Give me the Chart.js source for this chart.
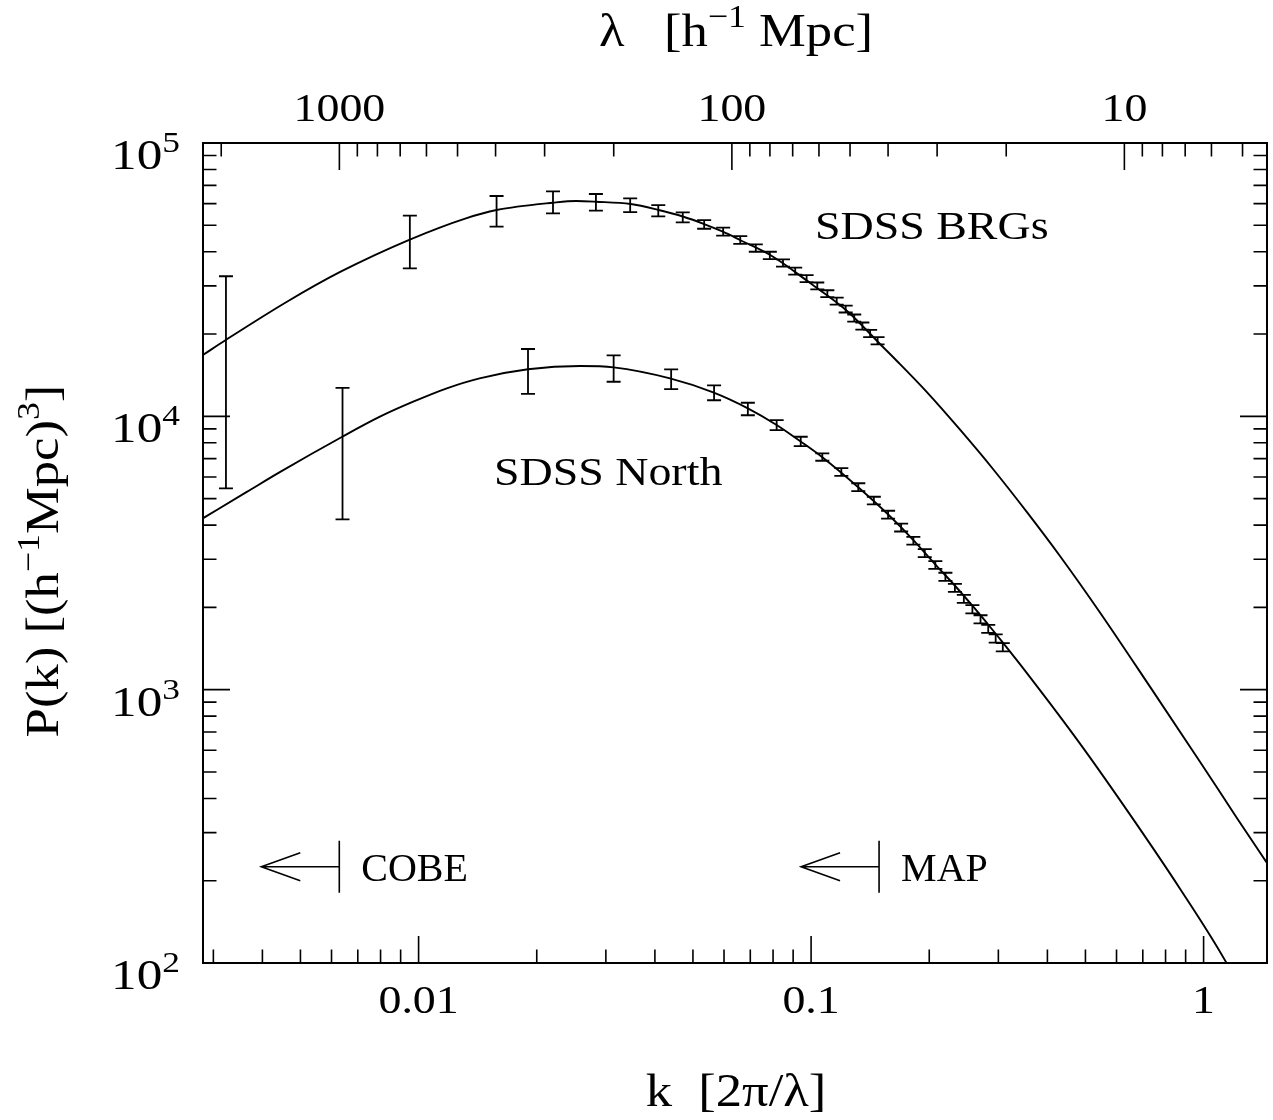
<!DOCTYPE html>
<html>
<head>
<meta charset="utf-8">
<script src="https://cdn.jsdelivr.net/npm/chart.js@4.4.1/dist/chart.umd.min.js"></script>
<style>
  html, body { margin: 0; padding: 0; background: #fff; }
  canvas { display: block; }
</style>
</head>
<body>
<canvas id="pk" width="1273" height="1120"></canvas>
<script>
// SDSS BRG band powers (k in h/Mpc, P and 1-sigma error in (Mpc/h)^3)
const brgK = [0.00323, 0.0095, 0.0158, 0.0220, 0.0283, 0.0346, 0.0408, 0.0471, 0.0534, 0.0597,
  0.0660, 0.0723, 0.0785, 0.0848, 0.0911, 0.0974, 0.1037, 0.1100, 0.1162, 0.1225, 0.1288, 0.1351, 0.1414, 0.1477];
const brgP = [19000, 44500, 56700, 60900, 60800, 59300, 56600, 53500, 50400, 47400,
  44200, 41300, 38800, 36400, 34000, 31900, 30000, 28100, 26400, 24700, 22900, 21400, 20100, 18900];
const brgErr = [13550, 9700, 7300, 5600, 4270, 3400, 2700, 2250, 1850, 1600,
  1450, 1300, 1200, 1100, 1000, 950, 880, 820, 770, 720, 680, 640, 600, 580];

// SDSS North band powers
const northK = [0.0064, 0.0190, 0.0314, 0.0440, 0.0566, 0.0690, 0.0817, 0.0941, 0.1068, 0.1194,
  0.1319, 0.1445, 0.1571, 0.1696, 0.1822, 0.1948, 0.2073, 0.2199, 0.2325, 0.2450, 0.2576, 0.2702, 0.2827, 0.2953, 0.3079];
const northP = [8450, 14860, 15050, 13720, 12220, 10650, 9300, 8100, 7100, 6260,
  5510, 4920, 4370, 3920, 3510, 3160, 2860, 2590, 2360, 2150, 1970, 1810, 1670, 1540, 1430];
const northErr = [4250, 2770, 1670, 1140, 770, 560, 390, 320, 220, 200,
  180, 160, 145, 130, 115, 105, 95, 88, 80, 73, 67, 62, 57, 53, 50];

// model curves
const brgCurveK = [0.00282, 0.00324, 0.00462, 0.00633, 0.00953, 0.0132, 0.0158, 0.0220, 0.0252, 0.0283,
  0.0347, 0.0409, 0.0473, 0.0534, 0.0596, 0.0659, 0.0800, 0.0994, 0.1227, 0.1522, 0.1652, 0.197,
  0.239, 0.291, 0.354, 0.431, 0.545, 0.730, 0.979, 1.218, 1.46];
const brgCurveP = [16760, 19100, 26260, 33820, 44420, 53030, 56870, 60480, 61360, 60990,
  59820, 56870, 53740, 50530, 47380, 44170, 38370, 30740, 24490, 17975, 15975, 12285,
  8970, 6404, 4480, 3077, 1912, 1026, 545, 338, 229];
const northCurveK = [0.00282, 0.00365, 0.00443, 0.00639, 0.00797, 0.00969, 0.0118, 0.0143, 0.0190, 0.0258,
  0.0314, 0.0437, 0.0563, 0.0690, 0.0817, 0.0937, 0.1064, 0.1314, 0.1567, 0.1822, 0.2068, 0.2326,
  0.2589, 0.2856, 0.3059, 0.3611, 0.4843, 0.6541, 0.8708, 1.135, 1.30];
const northCurveP = [4235, 5290, 6250, 8420, 9970, 11310, 12660, 13770, 14860, 15280,
  15110, 13770, 12240, 10700, 9300, 8120, 7115, 5526, 4391, 3527, 2881, 2400,
  2011, 1699, 1505, 1112, 635, 344, 187, 102, 70];

// axes
const kMin = 0.002823, kMax = 1.4506;
const pMin = 100, pMax = 100000;
const kTickValues = [0.01, 0.1, 1];
const kTickLabels = ['0.01', '0.1', '1'];
const lambdaTickValues = [1000, 100, 10];
const lambdaTickLabels = ['1000', '100', '10'];
const pTickValues = [100, 1000, 10000, 100000];
const pTickExps = ['2', '3', '4', '5'];

// survey scale limits (arrow markers) and curve labels
const markerK = [0.00628, 0.149];
const markerP = [225, 225];
const markerLabels = ['COBE', 'MAP'];
const curveLabelText = ['SDSS BRGs', 'SDSS North'];
const curveLabelK = [0.1023, 0.01556];
const curveLabelP = [44540, 5606];

const FONT = '"Liberation Serif", "Times New Roman", serif';

function pts(ks, ps, errs) {
  return ks.map((k, i) => errs ? { x: k, y: ps[i], err: errs[i] } : { x: k, y: ps[i] });
}

// draw a run of text pieces; pieces with sup:true are smaller and raised
// sx widens the glyphs a little, the original font is broad
function textRun(ctx, parts, x, y, align, size, sx) {
  size = size || 41;
  sx = sx || 1.12;
  const supSize = Math.round(size * 0.68);
  const rise = Math.round(size * 0.4);
  let w = 0;
  parts.forEach(p => {
    ctx.font = (p.sup ? supSize : size) + 'px ' + FONT;
    p.w = ctx.measureText(p.t).width * sx;
    w += p.w;
  });
  let cx = align === 'center' ? x - w / 2 : align === 'right' ? x - w : x;
  ctx.textAlign = 'left';
  ctx.textBaseline = 'alphabetic';
  parts.forEach(p => {
    ctx.font = (p.sup ? supSize : size) + 'px ' + FONT;
    ctx.save();
    ctx.translate(cx, y - (p.sup ? rise : 0));
    ctx.scale(sx, 1);
    ctx.fillText(p.t, 0, 0);
    ctx.restore();
    cx += p.w;
  });
}

const errorBars = {
  id: 'errorBars',
  afterDatasetsDraw(chart) {
    const { ctx, chartArea: a, scales: { x, y } } = chart;
    ctx.save();
    ctx.beginPath();
    ctx.rect(a.left, a.top, a.right - a.left, a.bottom - a.top);
    ctx.clip();
    ctx.strokeStyle = '#000';
    ctx.lineWidth = 1.8;
    ctx.beginPath();
    chart.data.datasets.forEach(ds => {
      if (!ds.errorBars) return;
      ds.data.forEach(d => {
        const px = x.getPixelForValue(d.x);
        const top = y.getPixelForValue(d.y + d.err);
        const bot = y.getPixelForValue(Math.max(d.y - d.err, 1));
        ctx.moveTo(px, top); ctx.lineTo(px, bot);
        ctx.moveTo(px - 7, top); ctx.lineTo(px + 7, top);
        ctx.moveTo(px - 7, bot); ctx.lineTo(px + 7, bot);
      });
    });
    ctx.stroke();
    ctx.restore();
  }
};

const axesDecor = {
  id: 'axesDecor',
  afterDraw(chart) {
    const { ctx, chartArea: a, scales } = chart;
    const xs = scales.x, ls = scales.x2, ys = scales.y;
    ctx.save();
    ctx.strokeStyle = '#000';
    ctx.fillStyle = '#000';
    ctx.lineWidth = 2;
    ctx.strokeRect(a.left, a.top, a.right - a.left, a.bottom - a.top);

    ctx.lineWidth = 1.6;
    ctx.beginPath();
    // bottom: k ticks
    for (let e = -3; e <= 0; e++) {
      for (let m = 1; m <= 9; m++) {
        const v = m * Math.pow(10, e);
        if (v < kMin || v > kMax) continue;
        const px = xs.getPixelForValue(v);
        const len = m === 1 ? 27 : 13.5;
        ctx.moveTo(px, a.bottom); ctx.lineTo(px, a.bottom - len);
      }
    }
    // top: lambda ticks
    const lamMin = 2 * Math.PI / kMax, lamMax = 2 * Math.PI / kMin;
    for (let e = 0; e <= 3; e++) {
      for (let m = 1; m <= 9; m++) {
        const v = m * Math.pow(10, e);
        if (v < lamMin || v > lamMax) continue;
        const px = ls.getPixelForValue(v);
        const len = m === 1 ? 27 : 13.5;
        ctx.moveTo(px, a.top); ctx.lineTo(px, a.top + len);
      }
    }
    // left and right: P ticks
    for (let e = 2; e <= 5; e++) {
      for (let m = 1; m <= 9; m++) {
        const v = m * Math.pow(10, e);
        if (v < pMin || v > pMax) continue;
        const py = ys.getPixelForValue(v);
        const len = m === 1 ? 27 : 13.5;
        ctx.moveTo(a.left, py); ctx.lineTo(a.left + len, py);
        ctx.moveTo(a.right, py); ctx.lineTo(a.right - len, py);
      }
    }
    ctx.stroke();

    // tick labels
    kTickValues.forEach((v, i) => {
      textRun(ctx, [{ t: kTickLabels[i] }], xs.getPixelForValue(v), 1013, 'center');
    });
    lambdaTickValues.forEach((v, i) => {
      textRun(ctx, [{ t: lambdaTickLabels[i] }], ls.getPixelForValue(v), 121, 'center');
    });
    pTickValues.forEach((v, i) => {
      textRun(ctx, [{ t: '10' }, { t: pTickExps[i], sup: true }], 180, ys.getPixelForValue(v) + 26, 'right', 42, 1.22);
    });

    // axis titles
    textRun(ctx, [{ t: 'k  [2\u03c0/\u03bb]' }], 736, 1106, 'center', 47);
    textRun(ctx, [{ t: '\u03bb   [h' }, { t: '\u22121', sup: true }, { t: ' Mpc]' }], 736, 46, 'center', 47);
    ctx.save();
    ctx.translate(58, 561);
    ctx.rotate(-Math.PI / 2);
    textRun(ctx, [{ t: 'P(k) [(h' }, { t: '\u22121', sup: true }, { t: 'Mpc)' }, { t: '3', sup: true }, { t: ']' }], 0, 0, 'center', 47);
    ctx.restore();

    // curve labels
    curveLabelText.forEach((t, i) => {
      textRun(ctx, [{ t }], xs.getPixelForValue(curveLabelK[i]), ys.getPixelForValue(curveLabelP[i]), 'left');
    });

    // COBE / MAP scale markers
    ctx.lineWidth = 1.6;
    markerK.forEach((k, i) => {
      const px = xs.getPixelForValue(k);
      const py = ys.getPixelForValue(markerP[i]);
      ctx.beginPath();
      ctx.moveTo(px, py - 26); ctx.lineTo(px, py + 26);
      ctx.moveTo(px, py); ctx.lineTo(px - 78, py);
      ctx.moveTo(px - 39, py - 14); ctx.lineTo(px - 78, py); ctx.lineTo(px - 39, py + 14);
      ctx.stroke();
      textRun(ctx, [{ t: markerLabels[i] }], px + 22, py + 14, 'left', 40, 1.0);
    });
    ctx.restore();
  }
};

const lineStyle = { showLine: true, pointRadius: 0, borderColor: '#000', borderWidth: 1.9,
  cubicInterpolationMode: 'monotone', fill: false };
const barStyle = { showLine: false, pointRadius: 0, pointHoverRadius: 0, borderColor: '#000', errorBars: true };

new Chart(document.getElementById('pk'), {
  type: 'scatter',
  data: {
    datasets: [
      Object.assign({ label: 'BRG model', data: pts(brgCurveK, brgCurveP) }, lineStyle),
      Object.assign({ label: 'North model', data: pts(northCurveK, northCurveP) }, lineStyle),
      Object.assign({ label: 'SDSS BRGs', data: pts(brgK, brgP, brgErr) }, barStyle),
      Object.assign({ label: 'SDSS North', data: pts(northK, northP, northErr) }, barStyle)
    ]
  },
  options: {
    responsive: false,
    animation: false,
    devicePixelRatio: 1,
    layout: { padding: { left: 203, top: 143, right: 6, bottom: 157 } },
    plugins: { legend: { display: false }, tooltip: { enabled: false } },
    scales: {
      x: { type: 'logarithmic', position: 'bottom', min: kMin, max: kMax, display: false },
      x2: { type: 'logarithmic', position: 'top', reverse: true,
            min: 2 * Math.PI / kMax, max: 2 * Math.PI / kMin, display: false },
      y: { type: 'logarithmic', position: 'left', min: pMin, max: pMax, display: false },
      y2: { type: 'logarithmic', position: 'right', min: pMin, max: pMax, display: false }
    }
  },
  plugins: [errorBars, axesDecor]
});
</script>
</body>
</html>
